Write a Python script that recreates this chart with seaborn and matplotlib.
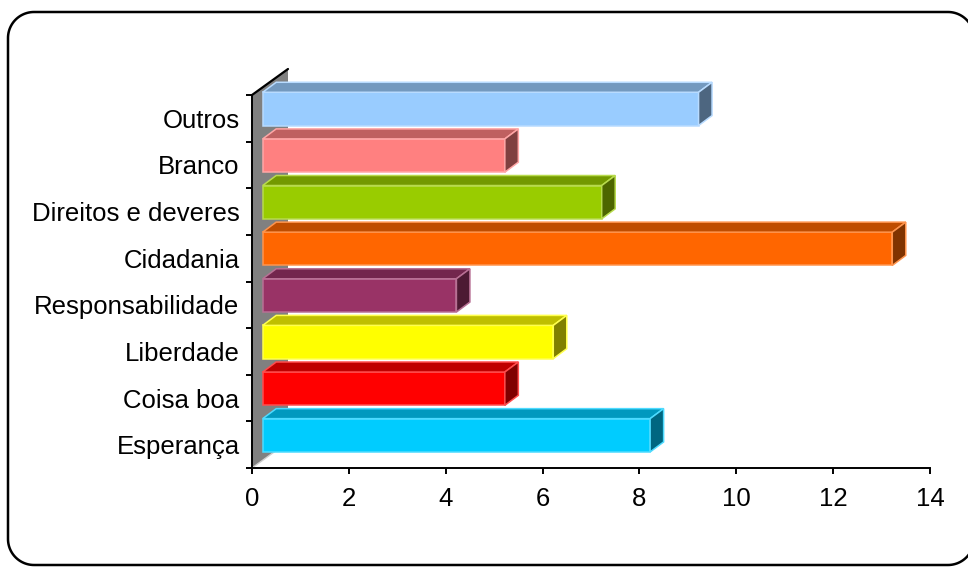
import matplotlib
matplotlib.use("Agg")
import numpy as np
import pandas as pd
import matplotlib.pyplot as plt
import seaborn as sns
from matplotlib.patches import Polygon
from matplotlib.transforms import Affine2D, IdentityTransform
from matplotlib.colors import to_rgb

# Data
categories = ["Outros", "Branco", "Direitos e deveres", "Cidadania",
              "Responsabilidade", "Liberdade", "Coisa boa", "Esperança"]
counts = [9, 5, 7, 13, 4, 6, 5, 8]
front_colors = ["#99CCFF", "#FF8080", "#99CC00", "#FF6600",
                "#993366", "#FFFF00", "#FF0000", "#00CCFF"]
x_ticks = [0, 2, 4, 6, 8, 10, 12, 14]

sns.set_theme(style="white")
plt.rcParams["font.family"] = ["Liberation Sans", "DejaVu Sans"]

W, H = 968, 567
fig = plt.figure(figsize=(W / 100, H / 100), dpi=100)
fig.patch.set_facecolor("white")
ax = fig.add_axes([252 / W, (H - 468) / H, (930 - 252) / W, (468 - 95) / H])
ax.set_facecolor("none")

df = pd.DataFrame({"categoria": categories, "valor": counts})
bar_w = 0.714
sns.barplot(data=df, x="valor", y="categoria", hue="categoria",
            order=categories, hue_order=categories, palette=front_colors,
            width=bar_w, saturation=1, legend=False, ax=ax, zorder=3)

ax.set_xlim(0, 14)
ax.set_ylim(len(categories) - 0.5, -0.5)
ax.set_xlabel("")
ax.set_ylabel("")

# 3D look: side wall, bar depth
depth_wall = np.array([36.0, 26.0])
front_shift = np.array([10.7, 9.4])
bar_depth = np.array([13.5, 10.0])

ident = IdentityTransform()
A = ax.transAxes.transform((0, 0))
B = ax.transAxes.transform((0, 1))
wall = Polygon([A, B, B + depth_wall, A + depth_wall], closed=True,
               facecolor="#808080", edgecolor="none", transform=ident,
               clip_on=False, zorder=1)
ax.add_patch(wall)
ax.add_line(plt.Line2D([B[0], B[0] + depth_wall[0]], [B[1], B[1] + depth_wall[1]],
                       color="black", lw=1.6, transform=ident, clip_on=False, zorder=2))
ax.add_line(plt.Line2D([A[0], A[0] + depth_wall[0]], [A[1], A[1] + depth_wall[1]],
                       color="#D0D0D0", lw=1.0, transform=ident, clip_on=False, zorder=2))


def shade(c, f):
    return tuple(np.array(to_rgb(c)) * f)


def tint(c, f):
    r = np.array(to_rgb(c))
    return tuple(r + (1 - r) * f)


for i, (patch, val, col) in enumerate(zip(ax.patches, counts, front_colors)):
    edge = tint(col, 0.3)
    patch.set_transform(ax.transData + Affine2D().translate(*front_shift))
    patch.set_clip_on(False)
    patch.set_edgecolor(edge)
    patch.set_linewidth(1.1)
    y_top = patch.get_y()
    y_bot = patch.get_y() + patch.get_height()
    x1 = patch.get_x() + patch.get_width()
    p_tl = ax.transData.transform((patch.get_x(), y_top)) + front_shift
    p_tr = ax.transData.transform((x1, y_top)) + front_shift
    p_br = ax.transData.transform((x1, y_bot)) + front_shift
    top = Polygon([p_tl, p_tr, p_tr + bar_depth, p_tl + bar_depth], closed=True,
                  facecolor=shade(col, 0.75), edgecolor=edge, lw=1.1,
                  transform=ident, clip_on=False, zorder=3)
    side = Polygon([p_br, p_tr, p_tr + bar_depth, p_br + bar_depth], closed=True,
                   facecolor=shade(col, 0.5), edgecolor=edge, lw=1.1,
                   transform=ident, clip_on=False, zorder=3)
    ax.add_patch(top)
    ax.add_patch(side)

# Axes styling
for s in ["top", "right"]:
    ax.spines[s].set_visible(False)
for s in ["left", "bottom"]:
    ax.spines[s].set_color("black")
    ax.spines[s].set_linewidth(1.4)
    ax.spines[s].set_zorder(4)

ax.set_xticks(x_ticks)
ax.set_xticklabels([str(t) for t in x_ticks])
ax.set_yticks(range(len(categories)))
ax.set_yticklabels(categories)
ax.set_yticks(np.arange(-0.5, len(categories), 1.0), minor=True)
ax.tick_params(axis="x", which="major", direction="out", length=4, width=1.4,
               color="black", labelsize=18.5, labelcolor="black", pad=10, bottom=True)
ax.tick_params(axis="y", which="major", length=0, labelsize=18.5,
               labelcolor="black", pad=9)
ax.tick_params(axis="y", which="minor", direction="out", length=4, width=1.4,
               color="black", left=True)
ax.grid(False)


def rounded_rect(x0, y0, x1, y1, r, n=24):
    """Vertices of a rounded rectangle, corners sampled as arcs."""
    pts = []
    corners = [(x1 - r, y1 - r, 0), (x0 + r, y1 - r, 90),
               (x0 + r, y0 + r, 180), (x1 - r, y0 + r, 270)]
    for cx, cy, a0 in corners:
        t = np.radians(np.linspace(a0, a0 + 90, n))
        pts.extend(zip(cx + r * np.cos(t), cy + r * np.sin(t)))
    return np.array(pts)


# Rounded chart frame (right edge runs just past the canvas)
frame = Polygon(rounded_rect(8, H - 565, 974, H - 12, 26), closed=True,
                facecolor="none", edgecolor="black", lw=1.8,
                transform=ident, clip_on=False)
fig.add_artist(frame)

fig.savefig("out.png", dpi=100)
